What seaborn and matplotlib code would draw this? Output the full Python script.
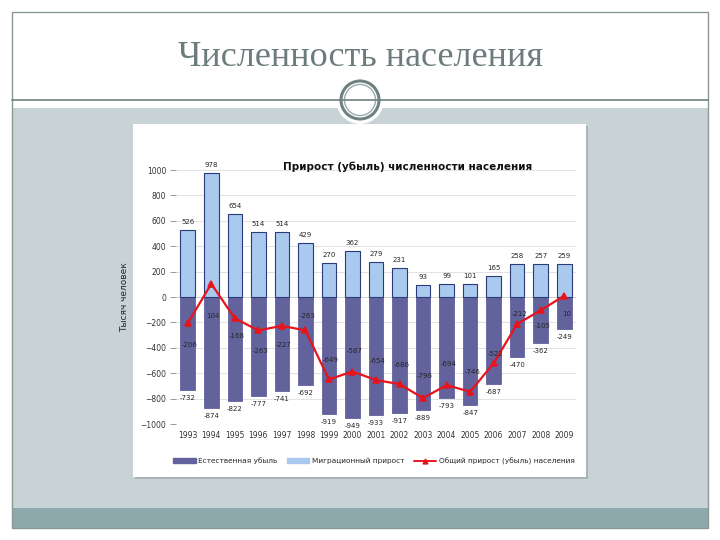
import numpy as np
import pandas as pd
import matplotlib
matplotlib.use("Agg")
import matplotlib.pyplot as plt
import seaborn as sns
from matplotlib.patches import Rectangle, Circle
from matplotlib.lines import Line2D
from matplotlib.patches import Patch

# data (thousand people)
years = [str(y) for y in range(1993, 2010)]
natural = [-732, -874, -822, -777, -741, -692, -919, -949, -933, -917,
           -889, -793, -847, -687, -470, -362, -249]
migration = [526, 978, 654, 514, 514, 429, 270, 362, 279, 231,
             93, 99, 101, 165, 258, 257, 259]
total = [-206, 104, -168, -263, -227, -263, -649, -587, -654, -686,
         -796, -694, -746, -522, -212, -105, 10]

# label offsets for the total line (pixels, layout only)
total_dy = [-22, -32, -18, -21, -19, 14, 19, 21, 19, 19,
            22, 21, 20, 9, 10, -16, -18]

dark = "#62629c"
light = "#a9c9ee"
red = "#e8141c"

sns.set_theme(style="white")
plt.rcParams['font.family'] = ['DejaVu Sans']

fig = plt.figure(figsize=(7.2, 5.4), dpi=100)

# slide background drawn in pixel coords
bg = fig.add_axes([0, 0, 1, 1], zorder=0)
bg.set_xlim(0, 720)
bg.set_ylim(540, 0)
bg.axis("off")
bg.add_patch(Rectangle((12, 108), 696, 402, color="#c8d3d6", lw=0))
bg.add_patch(Rectangle((12, 508), 696, 20, color="#8ea9ab", lw=0))
bg.add_patch(Rectangle((12, 12), 696, 516, fill=False, ec="#8c9898", lw=1))
bg.plot([12, 708], [100, 100], color="#6f8080", lw=1.2)
bg.add_patch(Rectangle((135, 126), 453, 353, color="#a8b4b6", lw=0))
bg.add_patch(Rectangle((133, 124), 453, 353, color="white", lw=0))
bg.add_patch(Circle((360, 100), 24, color="white", lw=0))
bg.add_patch(Circle((360, 100), 19, fill=False, ec="#6f8080", lw=2.2))
bg.add_patch(Circle((360, 100), 15.5, fill=False, ec="#9aa8a8", lw=1))
bg.text(361, 57, "Численность населения", ha="center", va="center",
        fontsize=26, color="#6c7c7d", family=["Liberation Serif", "DejaVu Serif"])

# chart axes
ax = fig.add_axes([176 / 720, 1 - 424 / 540, 400 / 720, 254 / 540], zorder=1)
ax.patch.set_alpha(0)

df = pd.DataFrame({"year": years, "natural": natural,
                   "migration": migration, "total": total})

sns.barplot(data=df, x="year", y="natural", color=dark, width=0.62,
            saturation=1, edgecolor=dark, linewidth=0.6, ax=ax)
sns.barplot(data=df, x="year", y="migration", color=light, width=0.62,
            saturation=1, edgecolor="#2c3a7c", linewidth=0.8, ax=ax)
sns.pointplot(data=df, x="year", y="total", color=red, markers="^",
              markersize=5, linewidth=1.6, ax=ax)

ax.set_ylim(-1000, 1000)
ax.set_xlim(-0.5, 16.5)
ax.set_yticks(range(-1000, 1001, 200))
ax.tick_params(axis="y", labelsize=5.5, length=4, width=0.6, color="#888888",
               left=True, pad=3, labelcolor="#333333")
ax.tick_params(axis="x", labelsize=5.5, length=0, pad=5, labelcolor="#333333")
ax.yaxis.grid(True, color="#dddddd", lw=0.6)
ax.set_axisbelow(True)
for s in ax.spines.values():
    s.set_visible(False)
ax.axhline(0, color="#888888", lw=0.6, zorder=0.5)
ax.set_xlabel("")
ax.set_ylabel("Тысяч человек", fontsize=6.5, labelpad=8)

for i in range(len(years)):
    ax.annotate(str(migration[i]), (i, migration[i]), xytext=(0, 8),
                textcoords="offset pixels", ha="center", va="center", fontsize=5)
    ax.annotate(str(natural[i]), (i, natural[i]), xytext=(0, -8),
                textcoords="offset pixels", ha="center", va="center", fontsize=5)
    ax.annotate(str(total[i]), (i, total[i]), xytext=(2, total_dy[i]),
                textcoords="offset pixels", ha="center", va="center", fontsize=5)

fig.text(408 / 720, 1 - 167 / 540, "Прирост (убыль) численности населения",
         ha="center", va="center", fontsize=7.5, fontweight="bold", color="#111111")

handles = [Patch(color=dark), Patch(color=light),
           Line2D([], [], color=red, marker="^", markersize=3.5, lw=1.4)]
labels = ["Естественная убыль", "Миграционный прирост",
          "Общий прирост (убыль) населения"]
fig.legend(handles, labels, loc="center", bbox_to_anchor=(374 / 720, 1 - 461 / 540),
           ncol=3, frameon=False, fontsize=5.3, handlelength=3.0, handleheight=0.5,
           columnspacing=1.4, handletextpad=0.3)

fig.savefig("out.png", dpi=100)
